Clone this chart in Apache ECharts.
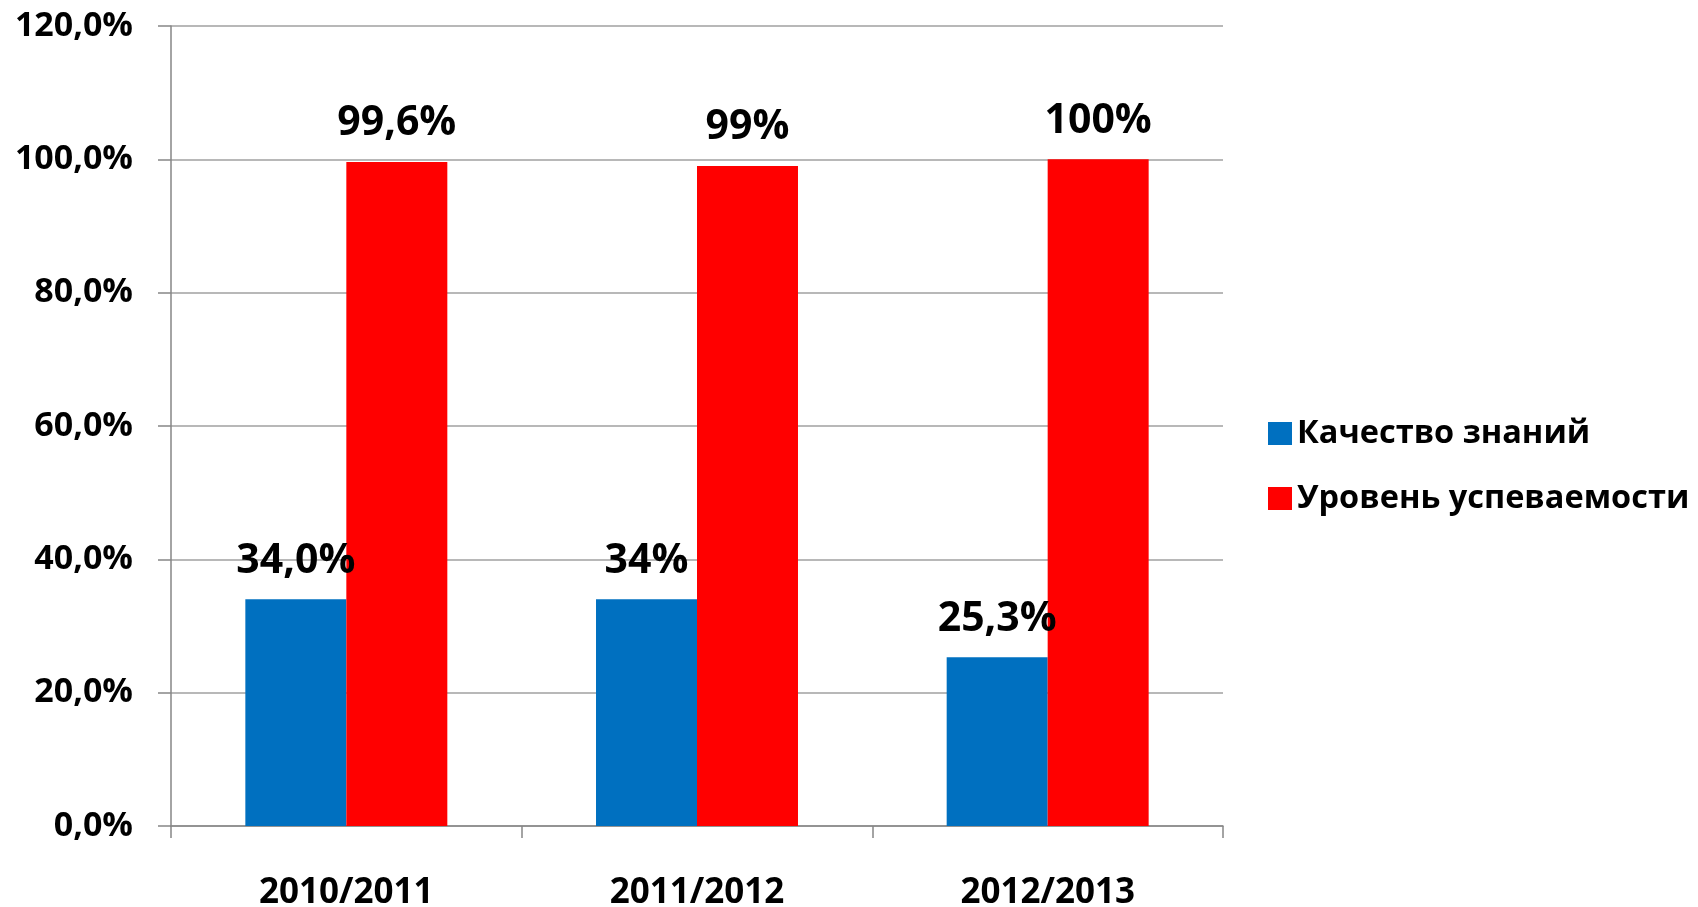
<!DOCTYPE html>
<html>
<head>
<meta charset="utf-8">
<script src="https://cdn.jsdelivr.net/npm/echarts@6/dist/echarts.min.js"></script>
<style>
  html, body { margin: 0; padding: 0; background: #fff; }
  #chart { width: 1698px; height: 907px; }
</style>
</head>
<body>
<div id="chart"></div>
<script>
// данные
var years = ['2010/2011', '2011/2012', '2012/2013'];
var seriesNames = ['Качество знаний', 'Уровень успеваемости'];
var quality = [34.0, 34, 25.3];
var progress = [99.6, 99, 100];
var qualityLabels = ['34,0%', '34%', '25,3%'];
var progressLabels = ['99,6%', '99%', '100%'];
var yTickLabels = ['0,0%', '20,0%', '40,0%', '60,0%', '80,0%', '100,0%', '120,0%'];

var font = '"Open Sans", "Noto Sans", sans-serif';

var chart = echarts.init(document.getElementById('chart'));
chart.setOption({
  animation: false,
  grid: { left: 171, right: 475, top: 26, bottom: 81, outerBoundsMode: 'none', containLabel: false },
  legend: {
    orient: 'vertical',
    left: 1263,
    top: 412,
    itemWidth: 24,
    itemHeight: 23,
    itemGap: 32,
    itemTextGap: 17,
    icon: 'rect',
    textStyle: { fontFamily: font, fontWeight: 'bold', fontSize: 32.5, lineHeight: 33, color: '#000' },
    data: seriesNames
  },
  xAxis: {
    type: 'category',
    data: years,
    axisLine: { lineStyle: { color: '#868686', width: 1.5 } },
    axisTick: { show: true, length: 12, lineStyle: { color: '#868686', width: 1.5 } },
    axisLabel: { margin: 50, fontFamily: font, fontWeight: 'bold', fontSize: 35, color: '#000' }
  },
  yAxis: {
    type: 'value',
    min: 0,
    max: 120,
    interval: 20,
    axisLine: { show: true, lineStyle: { color: '#868686', width: 1.5 } },
    axisTick: { show: true, length: 13, lineStyle: { color: '#868686', width: 1.5 } },
    splitLine: { lineStyle: { color: '#a0a0a0', width: 1.5 } },
    axisLabel: {
      margin: 38,
      fontFamily: font, fontWeight: 'bold', fontSize: 34, color: '#000',
      formatter: function (v) { return yTickLabels[Math.round(v / 20)]; }
    }
  },
  series: [
    {
      name: seriesNames[0],
      type: 'bar',
      data: quality,
      barGap: '0%',
      barCategoryGap: '42.4%',
      itemStyle: { color: '#0070C0' },
      label: {
        show: true, position: 'top', distance: 18,
        fontFamily: font, fontWeight: 'bold', fontSize: 41, color: '#000',
        formatter: function (p) { return qualityLabels[p.dataIndex]; }
      }
    },
    {
      name: seriesNames[1],
      type: 'bar',
      data: progress,
      barGap: '0%',
      barCategoryGap: '42.4%',
      itemStyle: { color: '#FF0000' },
      label: {
        show: true, position: 'top', distance: 18,
        fontFamily: font, fontWeight: 'bold', fontSize: 41, color: '#000',
        formatter: function (p) { return progressLabels[p.dataIndex]; }
      }
    }
  ]
});
</script>
</body>
</html>
